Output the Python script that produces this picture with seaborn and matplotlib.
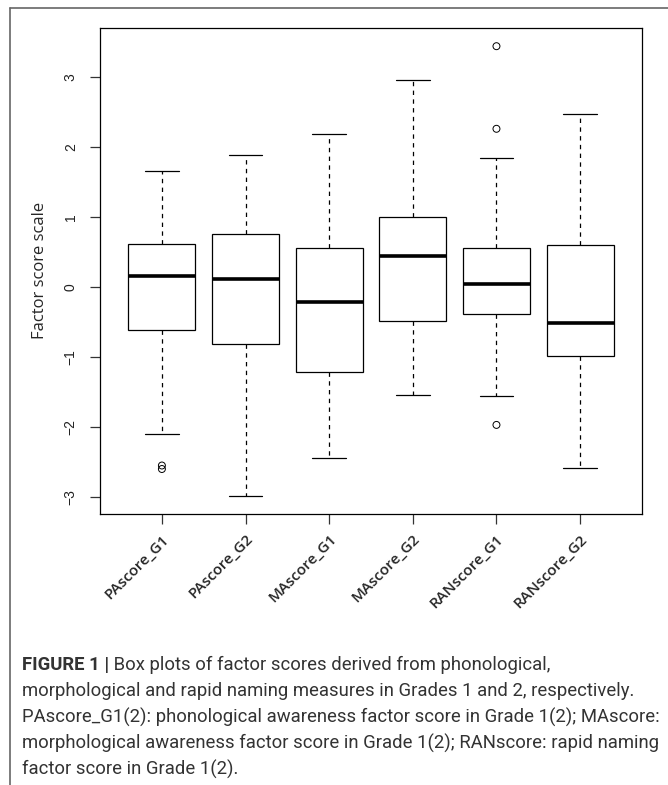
import numpy as np
import pandas as pd
import matplotlib.pyplot as plt
import seaborn as sns
from matplotlib.lines import Line2D
from matplotlib.transforms import ScaledTranslation

# Box plot summaries (factor score scale)
categories = ["PAscore_G1", "PAscore_G2", "MAscore_G1", "MAscore_G2", "RANscore_G1", "RANscore_G2"]
whisker_low = [-2.10, -2.98, -2.44, -1.54, -1.56, -2.58]
quartile_1 = [-0.62, -0.81, -1.21, -0.49, -0.39, -0.99]
medians = [0.16, 0.12, -0.21, 0.44, 0.04, -0.52]
quartile_3 = [0.62, 0.76, 0.56, 1.00, 0.56, 0.60]
whisker_high = [1.65, 1.88, 2.18, 2.95, 1.84, 2.47]

# Points drawn beyond the whiskers
outlier_groups = ["PAscore_G1", "PAscore_G1", "RANscore_G1", "RANscore_G1", "RANscore_G1"]
outlier_values = [-2.55, -2.60, 3.44, 2.26, -1.97]

y_ticks = [-3, -2, -1, 0, 1, 2, 3]

caption_bold = "FIGURE 1 |"
caption_lines = [
    " Box plots of factor scores derived from phonological,",
    "morphological and rapid naming measures in Grades 1 and 2, respectively.",
    "PAscore_G1(2): phonological awareness factor score in Grade 1(2); MAscore:",
    "morphological awareness factor score in Grade 1(2); RANscore: rapid naming",
    "factor score in Grade 1(2).",
]

box_df = pd.DataFrame({
    "measure": np.repeat(categories, 5),
    "score": np.column_stack([whisker_low, quartile_1, medians,
                              quartile_3, whisker_high]).ravel(),
})

sns.set_style("ticks")
plt.rcParams['font.family'] = ['Liberation Sans', 'DejaVu Sans']

W, H = 668, 785
fig = plt.figure(figsize=(W / 100, H / 100), dpi=100)
ax = fig.add_axes([100 / W, 1 - 513.6 / H, 542 / W, (513.6 - 28.2) / H])

sns.boxplot(data=box_df, x="measure", y="score", order=categories,
            whis=(0, 100), width=0.8, color="white", saturation=1,
            linecolor="black", linewidth=0.9, showfliers=False,
            medianprops={"linewidth": 2.6},
            whiskerprops={"linestyle": (0, (3.5, 3.5))},
            ax=ax)

sns.stripplot(x=outlier_groups, y=outlier_values, order=categories,
              jitter=False, size=5, color="black", ax=ax)
for coll in ax.collections:
    coll.set_facecolor("none")
    coll.set_edgecolor("black")
    coll.set_linewidth(0.7)

ax.set_xlim(-0.74, 5.74)
ax.set_ylim(-3.237, 3.697)
ax.set_xlabel("")
ax.set_ylabel("Factor score scale", fontsize=12, family="Open Sans")
ax.yaxis.set_label_coords(-0.096, 0.5)

ax.set_yticks(y_ticks)
ax.set_yticklabels([str(t).replace("-", "\u2212") for t in y_ticks],
                   rotation=90, va="center", fontsize=10, color="#222222")
ax.set_xticks(range(len(categories)))
ax.set_xticklabels(categories, rotation=45, ha="right", va="top",
                   rotation_mode="anchor", fontsize=11,
                   family="Open Sans", fontweight="semibold")
offset = ScaledTranslation(10 / 100, 0, fig.dpi_scale_trans)
for lab in ax.get_xticklabels():
    lab.set_transform(lab.get_transform() + offset)

ax.tick_params(axis="both", length=7, width=0.9, color="#333333")
ax.tick_params(axis="y", pad=9)
ax.tick_params(axis="x", pad=6)
for sp in ax.spines.values():
    sp.set_visible(True)
    sp.set_linewidth(0.9)
    sp.set_color("black")

# page frame (top and left rule)
fig.add_artist(Line2D([10 / W, 1], [1 - 8 / H, 1 - 8 / H], color="#666666", lw=1.2))
fig.add_artist(Line2D([10 / W, 10 / W], [0, 1 - 8 / H], color="#666666", lw=1.2))

# caption: size the font so the longest line spans the text block width
cap_x = 22 / W
cap_y = [665, 691, 717, 743, 769]
renderer = fig.canvas.get_renderer()
probe = fig.text(0, 0, caption_lines[2], fontsize=12, family="Roboto")
size = 12 * 636 / probe.get_window_extent(renderer).width
probe.remove()

cap_kw = dict(fontsize=size, family="Roboto", color="#333333", va="center")
t0 = fig.text(cap_x, 1 - cap_y[0] / H, caption_bold, fontweight="bold", **cap_kw)
bb = t0.get_window_extent(renderer)
fig.text(bb.x1 / W, 1 - cap_y[0] / H, caption_lines[0], **cap_kw)
for line, y in zip(caption_lines[1:], cap_y[1:]):
    fig.text(cap_x, 1 - y / H, line, **cap_kw)

fig.savefig("out.png", dpi=100)
